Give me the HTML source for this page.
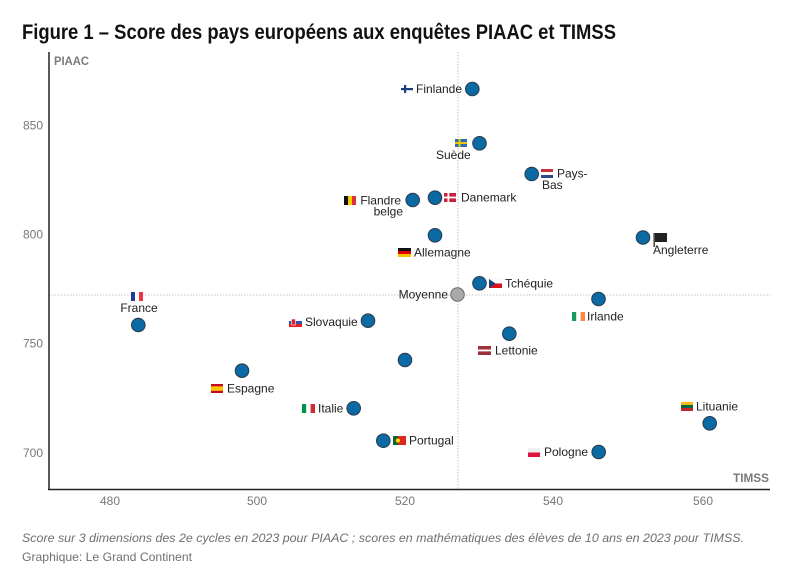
<!DOCTYPE html>
<html><head><meta charset="utf-8"><style>
html,body{margin:0;padding:0;background:#fff;}
svg{display:block;}
text{font-family:"Liberation Sans",Arial,sans-serif;}
</style></head><body>
<svg width="800" height="586" viewBox="0 0 800 586" xmlns="http://www.w3.org/2000/svg">
<rect width="800" height="586" fill="#fff"/>
<text x="22" y="39" font-size="21" font-weight="bold" fill="#111" textLength="594" lengthAdjust="spacingAndGlyphs">Figure 1 – Score des pays européens aux enquêtes PIAAC et TIMSS</text>

<!-- mean lines -->
<line x1="458" y1="52" x2="458" y2="489" stroke="#c4c4c4" stroke-width="1" stroke-dasharray="1.5,1.5"/>
<line x1="49" y1="295" x2="770" y2="295" stroke="#c4c4c4" stroke-width="1" stroke-dasharray="1.5,1.5"/>

<!-- axes -->
<line x1="49" y1="52" x2="49" y2="490" stroke="#222" stroke-width="1.5"/>
<line x1="48" y1="489.5" x2="770" y2="489.5" stroke="#222" stroke-width="1.5"/>

<text x="54" y="65" font-size="12" font-weight="bold" fill="#7a7a7a" textLength="35" lengthAdjust="spacingAndGlyphs">PIAAC</text>
<text x="769" y="482" font-size="12" font-weight="bold" fill="#7a7a7a" text-anchor="end" textLength="36" lengthAdjust="spacingAndGlyphs">TIMSS</text>

<g font-size="12" fill="#777" text-anchor="end">
<text x="43" y="129.5">850</text>
<text x="43" y="238.5">800</text>
<text x="43" y="347.5">750</text>
<text x="43" y="457">700</text>
</g>
<g font-size="12" fill="#777" text-anchor="middle">
<text x="110" y="505">480</text>
<text x="257" y="505">500</text>
<text x="405" y="505">520</text>
<text x="553" y="505">540</text>
<text x="703" y="505">560</text>
</g>

<!-- flags -->
<!-- Finland -->
<rect x="401" y="85" width="12" height="8" fill="#fff"/>
<rect x="404" y="85" width="2.2" height="8" fill="#1a3d7c"/>
<rect x="401" y="88" width="12" height="2.2" fill="#1a3d7c"/>
<!-- Sweden -->
<rect x="455" y="139" width="12" height="8" fill="#2a6db0"/>
<rect x="458.5" y="139" width="2" height="8" fill="#f2c600"/>
<rect x="455" y="142" width="12" height="2" fill="#f2c600"/>
<!-- Netherlands -->
<rect x="541" y="169" width="12" height="3" fill="#c8303c"/>
<rect x="541" y="172" width="12" height="3" fill="#fff"/>
<rect x="541" y="175" width="12" height="3" fill="#2a4a8c"/>
<!-- Denmark -->
<rect x="444" y="193" width="12" height="9" fill="#c8203c"/>
<rect x="447.5" y="193" width="1.8" height="9" fill="#fff"/>
<rect x="444" y="196.6" width="12" height="1.8" fill="#fff"/>
<!-- Belgium -->
<rect x="344" y="196" width="4" height="9" fill="#111"/>
<rect x="348" y="196" width="4" height="9" fill="#f5d000"/>
<rect x="352" y="196" width="4" height="9" fill="#e0303a"/>
<!-- Germany -->
<rect x="398" y="248" width="13" height="3" fill="#111"/>
<rect x="398" y="251" width="13" height="3" fill="#dd0000"/>
<rect x="398" y="254" width="13" height="3" fill="#f5c400"/>
<!-- England black flag -->
<rect x="653.5" y="233" width="1.3" height="14" fill="#222"/>
<path d="M655 233 L667 233 L667 242 L655 242 Z" fill="#222"/>
<!-- Czech -->
<rect x="489" y="279" width="13" height="4.5" fill="#fff" stroke="#ddd" stroke-width="0.3"/>
<rect x="489" y="283.5" width="13" height="4.5" fill="#d7141a"/>
<path d="M489 279 L495.5 283.5 L489 288 Z" fill="#11457e"/>
<!-- Ireland -->
<rect x="572" y="312" width="4.3" height="9" fill="#169b62"/>
<rect x="576.3" y="312" width="4.3" height="9" fill="#fff"/>
<rect x="580.6" y="312" width="4.4" height="9" fill="#ff883e"/>
<!-- France -->
<rect x="131" y="292" width="4" height="9" fill="#1f3c9a"/>
<rect x="135" y="292" width="4" height="9" fill="#fff"/>
<rect x="139" y="292" width="4" height="9" fill="#ef3340"/>
<!-- Slovakia -->
<rect x="289" y="318" width="13" height="3" fill="#fff"/>
<rect x="289" y="321" width="13" height="3" fill="#2a56b0"/>
<rect x="289" y="324" width="13" height="3" fill="#ee1c25"/>
<rect x="291.5" y="319" width="4" height="6" fill="#ee1c25" stroke="#fff" stroke-width="0.6"/>
<!-- Latvia -->
<rect x="478" y="346" width="13" height="3.6" fill="#9e3039"/>
<rect x="478" y="349.6" width="13" height="1.8" fill="#fff"/>
<rect x="478" y="351.4" width="13" height="3.6" fill="#9e3039"/>
<!-- Spain -->
<rect x="211" y="384" width="12" height="9" fill="#c60b1e"/>
<rect x="211" y="386.3" width="12" height="4.5" fill="#ffc400"/>
<!-- Italy -->
<rect x="302" y="404" width="4.3" height="9" fill="#009246"/>
<rect x="306.3" y="404" width="4.3" height="9" fill="#fff"/>
<rect x="310.6" y="404" width="4.4" height="9" fill="#ce2b37"/>
<!-- Lithuania -->
<rect x="681" y="402" width="12" height="3" fill="#fdb913"/>
<rect x="681" y="405" width="12" height="3" fill="#006a44"/>
<rect x="681" y="408" width="12" height="3" fill="#c1272d"/>
<!-- Portugal -->
<rect x="393" y="436" width="5" height="9" fill="#046a38"/>
<rect x="398" y="436" width="8" height="9" fill="#da291c"/>
<circle cx="398" cy="440.5" r="2.3" fill="#ffe000" stroke="#da291c" stroke-width="0.5"/>
<!-- Poland -->
<rect x="528" y="448" width="12" height="4.5" fill="#f0f0f0"/>
<rect x="528" y="452.5" width="12" height="4.5" fill="#dc143c"/>

<!-- labels -->
<g font-size="12" fill="#222">
<text x="416" y="93">Finlande</text>
<text x="436" y="159">Suède</text>
<text x="557" y="177.5">Pays-</text>
<text x="542" y="189">Bas</text>
<text x="461" y="201.5">Danemark</text>
<text x="401" y="204.5" text-anchor="end">Flandre</text>
<text x="403" y="215.5" text-anchor="end">belge</text>
<text x="414" y="256.5">Allemagne</text>
<text x="653" y="254">Angleterre</text>
<text x="505" y="287.5">Tchéquie</text>
<text x="448" y="298.5" text-anchor="end">Moyenne</text>
<text x="587" y="320.5">Irlande</text>
<text x="139" y="312" text-anchor="middle">France</text>
<text x="305" y="326">Slovaquie</text>
<text x="495" y="354.5">Lettonie</text>
<text x="227" y="392.5">Espagne</text>
<text x="318" y="412.5">Italie</text>
<text x="696" y="410.5">Lituanie</text>
<text x="409" y="444.5">Portugal</text>
<text x="544" y="456">Pologne</text>
</g>

<!-- points -->
<g fill="#0b69a3" stroke="#2a3a48" stroke-width="1">
<circle cx="472.3" cy="89" r="6.8"/>
<circle cx="479.5" cy="143.3" r="6.8"/>
<circle cx="531.7" cy="174" r="6.8"/>
<circle cx="435" cy="197.7" r="6.8"/>
<circle cx="412.7" cy="200" r="6.8"/>
<circle cx="435" cy="235.3" r="6.8"/>
<circle cx="643" cy="237.5" r="6.8"/>
<circle cx="479.5" cy="283.3" r="6.8"/>
<circle cx="598.5" cy="299" r="6.8"/>
<circle cx="138.3" cy="325" r="6.8"/>
<circle cx="368" cy="320.7" r="6.8"/>
<circle cx="509.3" cy="333.7" r="6.8"/>
<circle cx="405" cy="360" r="6.8"/>
<circle cx="242" cy="370.7" r="6.8"/>
<circle cx="353.7" cy="408.3" r="6.8"/>
<circle cx="709.7" cy="423.3" r="6.8"/>
<circle cx="383.3" cy="440.7" r="6.8"/>
<circle cx="598.7" cy="452" r="6.8"/>
</g>
<circle cx="457.5" cy="294.5" r="6.8" fill="#a9a9a9" stroke="#6a6a6a" stroke-width="1"/>

<!-- footer -->
<text x="22" y="542" font-size="12" font-style="italic" fill="#6f6f6f" textLength="722" lengthAdjust="spacingAndGlyphs">Score sur 3 dimensions des 2e cycles en 2023 pour PIAAC ; scores en mathématiques des élèves de 10 ans en 2023 pour TIMSS.</text>
<text x="22" y="561" font-size="12" fill="#6f6f6f" textLength="170" lengthAdjust="spacingAndGlyphs">Graphique: Le Grand Continent</text>
</svg>
</body></html>
